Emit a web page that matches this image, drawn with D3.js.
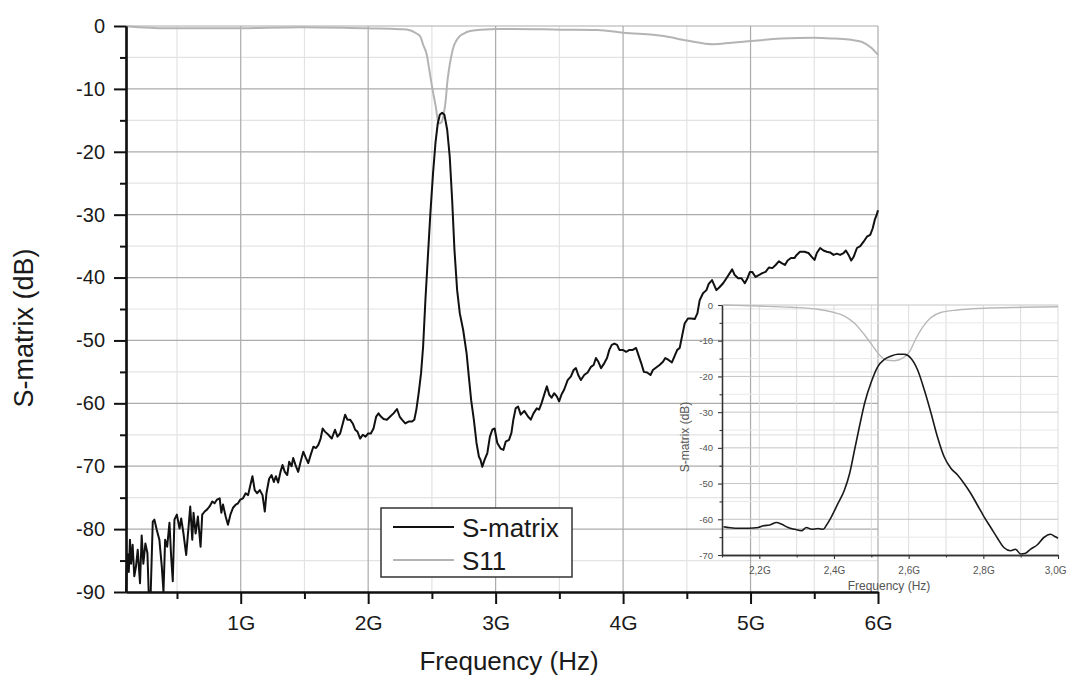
<!DOCTYPE html>
<html>
<head>
<meta charset="utf-8">
<script src="https://cdn.jsdelivr.net/npm/d3@7"></script>
<style>
  body { margin: 0; background: #fff; }
  svg { display: block; font-family: "Liberation Sans", Arial, sans-serif; }
</style>
</head>
<body>
<div id="chart"></div>
<script>
// main plot, frequency in GHz, level in dB
const sMatrix = [
  [0.10, -90], [0.105, -86.5], [0.113, -84], [0.122, -86.8], [0.131, -81.7], [0.14, -85.5], [0.152, -82.5],
  [0.165, -87.5], [0.178, -86], [0.192, -83.3], [0.21, -88.6], [0.223, -81], [0.236, -85.5],
  [0.252, -82.3], [0.268, -83.8], [0.278, -90], [0.294, -90], [0.31, -78.8], [0.323, -78.5],
  [0.341, -80.1], [0.362, -81.7], [0.381, -86], [0.394, -90], [0.407, -81.7], [0.423, -82.8],
  [0.441, -79], [0.454, -84.3], [0.467, -88.3], [0.48, -78.5], [0.499, -77.7], [0.52, -79.9],
  [0.533, -78.3], [0.551, -80.7], [0.572, -84.1], [0.591, -79.6], [0.604, -76.4], [0.62, -81.7],
  [0.63, -77.4], [0.646, -80.7], [0.664, -78], [0.685, -82.8], [0.698, -77.7], [0.717, -77.2],
  [0.735, -76.9], [0.756, -76.4], [0.777, -75.6], [0.795, -75.9], [0.814, -75.3], [0.835, -75.1],
  [0.848, -77.4], [0.861, -76.1], [0.882, -78], [0.9, -79.3], [0.919, -77.7], [0.94, -76.6],
  [0.961, -76.1], [0.979, -75.9], [0.997, -75.3], [1.018, -75.1], [1.039, -74.3], [1.058, -74.6],
  [1.076, -73], [1.092, -71.6], [1.11, -73.8], [1.128, -74.3], [1.15, -73.8], [1.171, -74.6],
  [1.189, -77.2], [1.202, -74.3], [1.223, -72], [1.242, -71.4], [1.26, -72.5], [1.276, -71.6],
  [1.294, -72.6], [1.312, -70.9], [1.328, -69.8], [1.346, -70.9], [1.365, -71.4], [1.38, -69.3],
  [1.399, -70], [1.412, -68.7], [1.433, -70], [1.451, -70.9], [1.47, -69.3], [1.491, -67.7],
  [1.512, -68.7], [1.53, -69.5], [1.549, -68.2], [1.57, -66.9], [1.591, -67.1], [1.609, -66.6],
  [1.627, -65.6], [1.643, -64], [1.661, -64.5], [1.688, -65], [1.714, -65.6], [1.74, -64.2],
  [1.759, -65.3], [1.78, -64.8], [1.801, -63.2], [1.819, -61.8], [1.837, -62.6], [1.858, -62.6],
  [1.879, -63.2], [1.898, -64.2], [1.916, -64.5], [1.937, -65.6], [1.958, -65], [1.979, -65.3],
  [2.0, -64.8], [2.021, -64.8], [2.042, -64], [2.063, -62.1], [2.081, -61.6], [2.1, -62.1],
  [2.121, -62.5], [2.147, -62.6], [2.173, -62.1], [2.199, -61.6], [2.226, -60.9], [2.247, -62.1],
  [2.265, -62.6], [2.291, -63.2], [2.317, -62.9], [2.344, -62.9], [2.362, -62.6], [2.378, -61],
  [2.396, -58.4], [2.415, -55.2], [2.431, -51], [2.449, -43.6], [2.467, -37.2], [2.488, -29.8],
  [2.509, -23.4], [2.528, -18.6], [2.546, -15.5], [2.562, -14.1], [2.58, -13.8], [2.598, -14.1],
  [2.62, -16.5], [2.64, -20.8], [2.659, -27.7], [2.677, -35.6], [2.698, -42], [2.719, -45.7],
  [2.745, -48.3], [2.772, -52], [2.79, -55.8], [2.808, -59.5], [2.829, -62.6], [2.85, -66.3],
  [2.869, -68.5], [2.882, -69], [2.895, -70.1], [2.913, -69], [2.935, -67.9], [2.955, -65.3],
  [2.974, -64.2], [2.992, -64], [3.013, -66.3], [3.039, -67.2], [3.061, -67.4], [3.079, -66.1],
  [3.105, -65.8], [3.124, -64.7], [3.139, -62.6], [3.157, -60.8], [3.176, -60.5], [3.197, -61.8],
  [3.225, -61.2], [3.254, -62.1], [3.276, -62.6], [3.297, -61.6], [3.323, -60.8], [3.341, -61],
  [3.36, -60], [3.38, -58.7], [3.402, -57.3], [3.42, -58.6], [3.439, -59.1], [3.459, -58.4],
  [3.48, -58.9], [3.498, -59.7], [3.517, -58.6], [3.538, -57.8], [3.565, -56.3], [3.591, -55.7],
  [3.612, -54.7], [3.63, -54.4], [3.648, -55.5], [3.669, -56.3], [3.695, -55.5], [3.722, -55.1],
  [3.748, -54.2], [3.769, -53.9], [3.787, -52.8], [3.806, -53.4], [3.827, -54.4], [3.853, -53.6],
  [3.874, -52.8], [3.892, -51.5], [3.911, -50.7], [3.932, -50.5], [3.953, -50.7], [3.971, -51.5],
  [3.998, -51.5], [4.024, -51.8], [4.05, -51.5], [4.076, -51.5], [4.102, -51.2], [4.12, -52.3],
  [4.142, -53.6], [4.163, -55], [4.189, -55.1], [4.215, -55.5], [4.234, -54.7], [4.26, -54.3],
  [4.286, -53.9], [4.313, -53.4], [4.331, -52.8], [4.357, -53.1], [4.383, -53.5], [4.404, -52.5],
  [4.425, -51.5], [4.444, -51.2], [4.462, -49.4], [4.483, -47.3], [4.509, -46.5], [4.535, -46.5],
  [4.562, -46.6], [4.583, -45.7], [4.601, -43.6], [4.627, -42.5], [4.654, -42], [4.672, -41],
  [4.698, -40.4], [4.715, -41.2], [4.732, -42], [4.758, -41.5], [4.785, -40.9], [4.811, -40.1],
  [4.837, -39.3], [4.856, -38.7], [4.876, -39.6], [4.903, -40.1], [4.929, -40.1], [4.955, -40.9],
  [4.976, -40.1], [4.995, -39.1], [5.013, -39.1], [5.039, -39.9], [5.065, -39.6], [5.092, -39.3],
  [5.118, -39.1], [5.144, -38.4], [5.171, -38.5], [5.197, -38], [5.223, -37.4], [5.244, -37.7],
  [5.27, -38], [5.291, -37.3], [5.317, -36.9], [5.344, -36.9], [5.362, -36.4], [5.388, -35.9],
  [5.423, -35.9], [5.454, -36.1], [5.48, -36.7], [5.502, -37.2], [5.52, -36.1], [5.546, -35.3],
  [5.572, -35.7], [5.598, -35.9], [5.624, -36], [5.651, -36.4], [5.677, -36.2], [5.703, -36.4],
  [5.73, -36.1], [5.748, -35.7], [5.769, -36.4], [5.79, -37.3], [5.809, -36.7], [5.835, -35.3],
  [5.861, -35], [5.887, -34.3], [5.913, -33.5], [5.939, -33.2], [5.958, -32.2], [5.975, -30.8],
  [5.99, -30], [6.0, -29.3]
];
const s11 = [
  [0.1, -0.05], [0.42, -0.37], [0.94, -0.37], [1.47, -0.2], [1.99, -0.37], [2.09, -0.4],
  [2.25, -0.5], [2.3, -0.55], [2.38, -1.2], [2.41, -1.7], [2.43, -2.9], [2.46, -4.6], [2.48, -7],
  [2.5, -9.5], [2.53, -12.8], [2.553, -15.5], [2.575, -15.3], [2.593, -14], [2.61, -11.5],
  [2.62, -9.1], [2.635, -6.8], [2.65, -5], [2.67, -3.3], [2.69, -2.4], [2.72, -1.6], [2.75, -1.2],
  [2.8, -0.8], [2.88, -0.6], [2.96, -0.5], [3.14, -0.48], [3.51, -0.58], [3.8, -0.64], [4.0, -1.06],
  [4.32, -1.6], [4.5, -2.3], [4.71, -2.9], [4.85, -2.65], [5.0, -2.4], [5.24, -2.0], [5.5, -1.85],
  [5.66, -2.0], [5.79, -2.2], [5.87, -2.5], [5.95, -3.5], [6.0, -4.6]
];
// inset, 2.1 - 3.0 GHz
const insetSMatrix = [
  [2.104, -62.1], [2.135, -62.5], [2.171, -62.5], [2.197, -62.3], [2.211, -61.8], [2.228, -61.6],
  [2.246, -60.9], [2.26, -61.4], [2.277, -62.3], [2.295, -62.8], [2.313, -63.2], [2.326, -62.3],
  [2.34, -62.8], [2.357, -62.6], [2.371, -62.8], [2.38, -61.6], [2.393, -59.3], [2.411, -55.5],
  [2.428, -51.8], [2.442, -47.1], [2.455, -40.6], [2.468, -34.1], [2.482, -27.5], [2.5, -21.5],
  [2.517, -17.3], [2.535, -15.2], [2.553, -14.3], [2.571, -13.8], [2.588, -13.8], [2.606, -14.9],
  [2.624, -18.2], [2.642, -23.8], [2.66, -30.3], [2.677, -36.9], [2.695, -42.5], [2.713, -45.7],
  [2.731, -47.6], [2.748, -49.9], [2.766, -52.7], [2.784, -56], [2.802, -59.3], [2.82, -62.3],
  [2.838, -65.3], [2.855, -67.9], [2.873, -68.8], [2.886, -68.4], [2.9, -69.7], [2.913, -69.5],
  [2.926, -68.4], [2.944, -67.2], [2.962, -65.1], [2.98, -64.2], [2.993, -64.9], [3.0, -65.3]
];
const insetS11 = [
  [2.104, 0], [2.197, -0.3], [2.286, -0.65], [2.357, -1.2], [2.393, -1.9], [2.428, -3.1],
  [2.455, -5.1], [2.482, -8.4], [2.504, -11.5], [2.522, -14], [2.54, -15.4], [2.562, -15.6],
  [2.584, -14.9], [2.602, -13.1], [2.62, -9.3], [2.638, -6.1], [2.66, -3.5], [2.686, -2.1],
  [2.731, -1.4], [2.802, -0.93], [2.908, -0.65], [3.0, -0.47]
];

const xTicks = [1, 2, 3, 4, 5, 6];
const xTickLabels = ["1G", "2G", "3G", "4G", "5G", "6G"];
const xMinor = [0.5, 1.5, 2.5, 3.5, 4.5, 5.5];
const yTicks = [0, -10, -20, -30, -40, -50, -60, -70, -80, -90];
const yMinor = [-5, -15, -25, -35, -45, -55, -65, -75, -85];
const insetXTicks = [2.2, 2.4, 2.6, 2.8, 3.0];
const insetXTickLabels = ["2,2G", "2,4G", "2,6G", "2,8G", "3,0G"];
const insetXMinor = [2.1, 2.3, 2.5, 2.7, 2.9];
const insetYTicks = [0, -10, -20, -30, -40, -50, -60, -70];
const insetYMinor = [-5, -15, -25, -35, -45, -55, -65];
const legendLabels = ["S-matrix", "S11"];
const seriesColors = ["#111111", "#b4b4b4"];

const width = 1067, height = 677;

const svg = d3.select("#chart").append("svg")
  .attr("width", width)
  .attr("height", height);

const x = d3.scaleLinear().domain([0.1, 6]).range([126, 878]);
const y = d3.scaleLinear().domain([0, -90]).range([26, 592]);
const ix = d3.scaleLinear().domain([2.1, 3.0]).range([722, 1058]);
const iy = d3.scaleLinear().domain([0, -70]).range([305, 555]);

// plain hyphen minus, like the original
const plain = d => String(d);

// grid of the main plot
const grid = svg.append("g").attr("fill", "none");
grid.selectAll(".vminor").data(xMinor).join("line")
  .attr("x1", d => x(d)).attr("x2", d => x(d))
  .attr("y1", y(0)).attr("y2", y(-90))
  .attr("stroke", "#e3e3e3").attr("stroke-width", 1.2);
grid.selectAll(".hminor").data(yMinor).join("line")
  .attr("x1", x(0.1)).attr("x2", x(6))
  .attr("y1", d => y(d)).attr("y2", d => y(d))
  .attr("stroke", "#e3e3e3").attr("stroke-width", 1.2);
grid.selectAll(".vmajor").data(xTicks).join("line")
  .attr("x1", d => x(d)).attr("x2", d => x(d))
  .attr("y1", y(0)).attr("y2", y(-90))
  .attr("stroke", "#ababab").attr("stroke-width", 1.2);
grid.selectAll(".hmajor").data(yTicks.slice(0, -1)).join("line")
  .attr("x1", x(0.1)).attr("x2", x(6))
  .attr("y1", d => y(d)).attr("y2", d => y(d))
  .attr("stroke", "#ababab").attr("stroke-width", 1.2);

// inset
const inset = svg.append("g");
inset.selectAll(".ivgrid").data(insetXTicks.concat(insetXMinor.slice(1))).join("line")
  .attr("x1", d => ix(d)).attr("x2", d => ix(d))
  .attr("y1", iy(0)).attr("y2", iy(-70))
  .attr("stroke", "#dcdcdc").attr("stroke-width", 1);
inset.selectAll(".ihminor").data(insetYMinor).join("line")
  .attr("x1", ix(2.1)).attr("x2", ix(3.0))
  .attr("y1", d => iy(d)).attr("y2", d => iy(d))
  .attr("stroke", "#e8e8e8").attr("stroke-width", 1);
inset.selectAll(".ihmajor").data(insetYTicks.slice(0, -1)).join("line")
  .attr("x1", ix(2.1)).attr("x2", ix(3.0))
  .attr("y1", d => iy(d)).attr("y2", d => iy(d))
  .attr("stroke", "#c4c4c4").attr("stroke-width", 1);

const iline = d3.line().x(d => ix(d[0])).y(d => iy(d[1])).curve(d3.curveMonotoneX);
inset.append("path").datum(insetS11)
  .attr("d", iline).attr("fill", "none")
  .attr("stroke", "#b8b8b8").attr("stroke-width", 1.4);
inset.append("path").datum(insetSMatrix)
  .attr("d", iline).attr("fill", "none")
  .attr("stroke", "#1a1a1a").attr("stroke-width", 1.6);

function styleInsetAxis(g) {
  g.select(".domain").attr("stroke", "#333").attr("stroke-width", 1.3);
  g.selectAll(".tick line").attr("stroke", "#333").attr("stroke-width", 1.1);
  g.selectAll(".tick text").attr("fill", "#555").attr("font-size", "10px");
}

inset.append("g")
  .attr("transform", `translate(0,${iy(-70)})`)
  .call(d3.axisBottom(ix).tickValues(insetXMinor).tickSize(2.5).tickSizeOuter(0).tickFormat(""))
  .call(styleInsetAxis);
inset.append("g")
  .attr("transform", `translate(0,${iy(-70)})`)
  .call(d3.axisBottom(ix).tickValues(insetXTicks).tickSize(4).tickSizeOuter(0).tickPadding(8)
    .tickFormat((d, i) => insetXTickLabels[i]))
  .call(styleInsetAxis)
  // last label sits at the right edge of the page
  .call(g => g.selectAll(".tick:last-of-type text").attr("text-anchor", "end").attr("dx", 8));
inset.append("g")
  .attr("transform", `translate(${ix(2.1)},0)`)
  .call(d3.axisLeft(iy).tickValues(insetYMinor).tickSize(2.5).tickSizeOuter(0).tickFormat(""))
  .call(styleInsetAxis);
inset.append("g")
  .attr("transform", `translate(${ix(2.1)},0)`)
  .call(d3.axisLeft(iy).tickValues(insetYTicks).tickSize(4).tickSizeOuter(0).tickPadding(5)
    .tickFormat(plain))
  .call(styleInsetAxis)
  .call(g => g.selectAll(".tick text").attr("font-size", "9.5px"));

inset.append("text")
  .attr("x", 889).attr("y", 590)
  .attr("text-anchor", "middle")
  .attr("font-size", "12px").attr("fill", "#555")
  .text("Frequency (Hz)");
inset.append("text")
  .attr("transform", "translate(689,437) rotate(-90)")
  .attr("text-anchor", "middle")
  .attr("font-size", "12px").attr("fill", "#555")
  .text("S-matrix (dB)");

// main curves
const line = d3.line().x(d => x(d[0])).y(d => y(d[1]));
svg.append("path").datum(s11)
  .attr("d", line.curve(d3.curveMonotoneX)).attr("fill", "none")
  .attr("stroke", seriesColors[1]).attr("stroke-width", 2);
svg.append("path").datum(sMatrix)
  .attr("d", d3.line().x(d => x(d[0])).y(d => y(d[1]))).attr("fill", "none")
  .attr("stroke", seriesColors[0]).attr("stroke-width", 2)
  .attr("stroke-linejoin", "round");

// axes
function styleAxis(g) {
  g.select(".domain").attr("stroke", "#111").attr("stroke-width", 2.2);
  g.selectAll(".tick line").attr("stroke", "#111").attr("stroke-width", 2);
  g.selectAll(".tick text").attr("fill", "#1a1a1a");
}

svg.append("g")
  .attr("transform", `translate(0,${y(-90)})`)
  .call(d3.axisBottom(x).tickValues(xMinor).tickSize(7).tickSizeOuter(0).tickFormat(""))
  .call(styleAxis);
svg.append("g")
  .attr("transform", `translate(0,${y(-90)})`)
  .call(d3.axisBottom(x).tickValues(xTicks).tickSize(12).tickSizeOuter(0).tickPadding(11)
    .tickFormat((d, i) => xTickLabels[i]))
  .call(styleAxis)
  .call(g => g.selectAll(".tick text").attr("font-size", "21px"));
svg.append("g")
  .attr("transform", `translate(${x(0.1)},0)`)
  .call(d3.axisLeft(y).tickValues(yMinor).tickSize(6).tickSizeOuter(0).tickFormat(""))
  .call(styleAxis);
svg.append("g")
  .attr("transform", `translate(${x(0.1)},0)`)
  .call(d3.axisLeft(y).tickValues(yTicks).tickSize(12).tickSizeOuter(0).tickPadding(9)
    .tickFormat(plain))
  .call(styleAxis)
  .call(g => g.selectAll(".tick text").attr("font-size", "20px"));

svg.append("text")
  .attr("x", 509).attr("y", 670)
  .attr("text-anchor", "middle")
  .attr("font-size", "26px").attr("fill", "#1a1a1a")
  .text("Frequency (Hz)");
svg.append("text")
  .attr("transform", "translate(33,328) rotate(-90)")
  .attr("text-anchor", "middle")
  .attr("font-size", "27px").attr("fill", "#1a1a1a")
  .text("S-matrix (dB)");

// legend
const legend = svg.append("g").attr("transform", "translate(381,508)");
legend.append("rect")
  .attr("width", 191).attr("height", 69)
  .attr("fill", "#fff").attr("stroke", "#333").attr("stroke-width", 1.5);
const item = legend.selectAll(".item").data(legendLabels).join("g")
  .attr("transform", (d, i) => `translate(0,${19 + i * 33})`);
item.append("line")
  .attr("x1", 12).attr("x2", 73)
  .attr("stroke", (d, i) => seriesColors[i]).attr("stroke-width", 2);
item.append("text")
  .attr("x", 81).attr("y", 10)
  .attr("font-size", "26px").attr("fill", "#1a1a1a")
  .text(d => d);
</script>
</body>
</html>
